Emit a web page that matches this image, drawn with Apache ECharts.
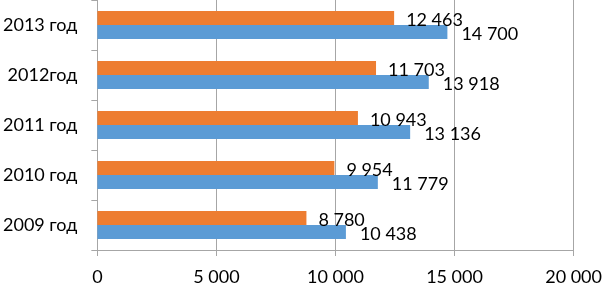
<!DOCTYPE html>
<html>
<head>
<meta charset="utf-8">
<script src="https://cdn.jsdelivr.net/npm/echarts@6/dist/echarts.min.js"></script>
<style>
  html, body { margin: 0; padding: 0; background: #fff; }
  #chart { width: 605px; height: 286px; }
</style>
</head>
<body>
<div id="chart"></div>
<script>
var categories = ['2009 год', '2010 год', '2011 год', '2012год', '2013 год'];
var orangeValues = [8780, 9954, 10943, 11703, 12463];
var blueValues = [10438, 11779, 13136, 13918, 14700];
var xTicks = { min: 0, max: 20000, interval: 5000 };

var font = "Lato, 'Open Sans', 'DejaVu Sans', sans-serif";

function fmt(v) {
  return String(v).replace(/\B(?=(\d{3})+(?!\d))/g, ' ');
}

function valueLabel(dist) {
  return {
    show: true,
    position: 'right',
    distance: dist,
    offset: [0, 2],
    fontSize: 18,
    color: '#000',
    fontFamily: font,
    formatter: function (p) { return fmt(p.value); }
  };
}

var chart = echarts.init(document.getElementById('chart'));
chart.setOption({
  animation: false,
  grid: {
    left: 96,
    right: 29,
    top: 0,
    bottom: 35
  },
  xAxis: {
    type: 'value',
    min: xTicks.min,
    max: xTicks.max,
    interval: xTicks.interval,
    axisLine: { show: true, lineStyle: { color: '#a6a6a6' } },
    axisTick: { show: true, length: 6, lineStyle: { color: '#a6a6a6' } },
    splitLine: { show: true, lineStyle: { color: '#a6a6a6' } },
    axisLabel: {
      margin: 18,
      fontSize: 18,
      color: '#000',
      fontFamily: font,
      formatter: fmt
    }
  },
  yAxis: {
    type: 'category',
    data: categories,
    axisLine: { show: true, lineStyle: { color: '#a6a6a6' } },
    axisTick: { show: true, length: 6, lineStyle: { color: '#a6a6a6' } },
    axisLabel: {
      margin: 20,
      fontSize: 18,
      color: '#000',
      fontFamily: font
    }
  },
  series: [
    {
      name: 'orange',
      type: 'bar',
      data: orangeValues,
      barGap: '0%',
      barCategoryGap: '44%',
      itemStyle: { color: '#ed7d31' },
      label: valueLabel(12)
    },
    {
      name: 'blue',
      type: 'bar',
      data: blueValues,
      barGap: '0%',
      barCategoryGap: '44%',
      itemStyle: { color: '#5b9bd5' },
      label: valueLabel(14)
    }
  ]
});
</script>
</body>
</html>
